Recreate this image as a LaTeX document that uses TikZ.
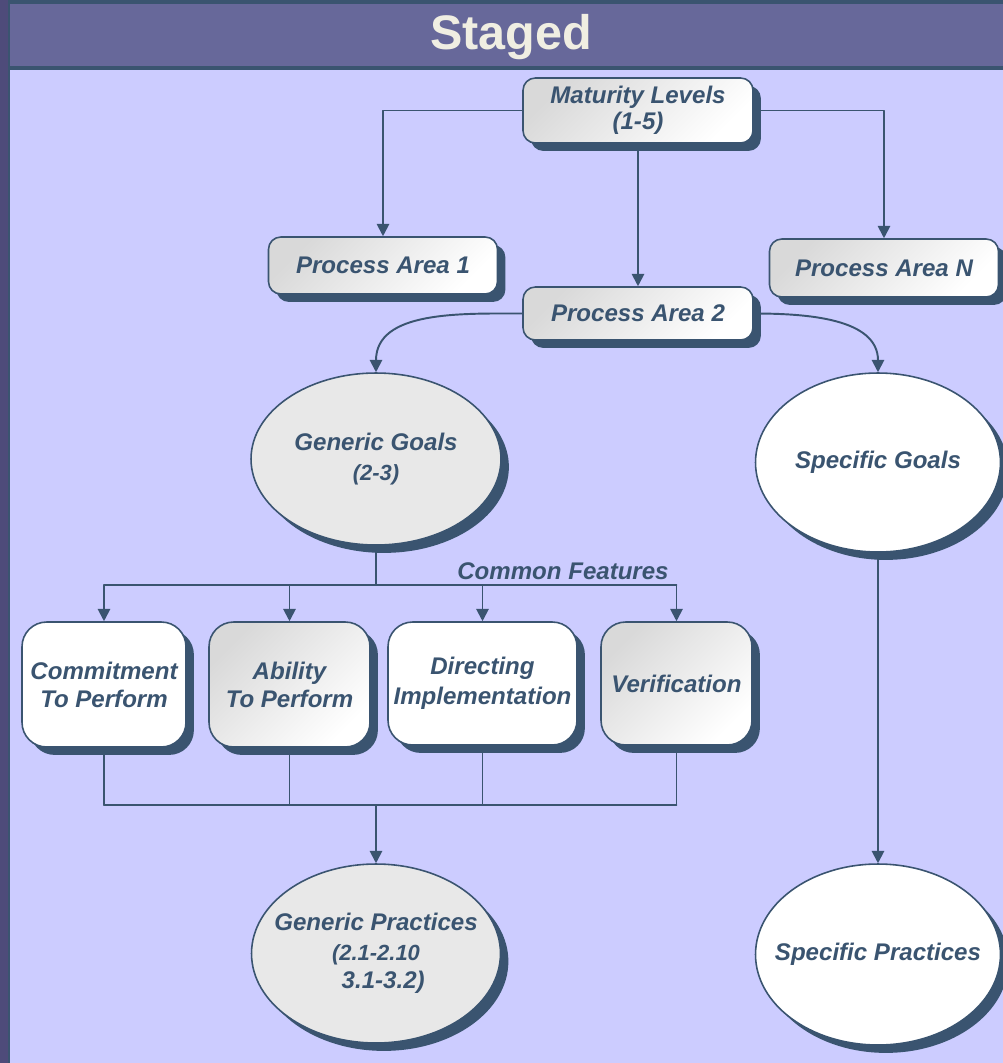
\documentclass[tikz,border=0pt]{standalone}
\usepackage{fontspec}
\setmainfont{Liberation Sans}
\usetikzlibrary{arrows.meta,shadows,shapes.geometric}

\definecolor{slate}{HTML}{3A5470}
\definecolor{lavender}{HTML}{CCCCFF}
\definecolor{band}{HTML}{67689A}
\definecolor{strip}{HTML}{4E4B7A}
\definecolor{cream}{HTML}{F0EEE2}
\definecolor{ggray}{HTML}{E8E8E8}

\begin{document}
\begin{tikzpicture}[
  x=0.02cm, y=-0.02cm,
  line cap=round, line join=round,
  >={Triangle[length=7pt,width=7pt]},
  conn/.style={draw=slate, line width=1.1pt},
  txt/.style={text=slate, align=center,
              font=\fontsize{13.7}{16}\selectfont\bfseries\itshape},
  shd/.style={drop shadow={shadow xshift=4.5pt, shadow yshift=-4.5pt,
              fill=slate, opacity=1}},
  pbox/.style={txt, shd, draw=slate, line width=0.9pt, rounded corners=7pt,
               inner sep=2pt},
  fbox/.style={pbox, rounded corners=14pt},
  grad/.style={top color=black!15, bottom color=white, shading angle=45},
  oval/.style={txt, shd, ellipse, draw=slate, line width=0.9pt,
               inner xsep=-10pt, inner ysep=0pt}
]

  % ── Background and title ──────────────────────────────────────────────────
  \useasboundingbox (0,0) rectangle (1003,1063);
  \fill[lavender] (0,0) rectangle (1003,1063);
  \fill[slate] (0,0) rectangle (1003,70);
  \fill[band] (10,4) rectangle (1003,66);
  \fill[strip] (0,0) rectangle (8,1063);
  \fill[slate] (8,0) rectangle (10,1063);
  \node[font=\fontsize{27.6}{30}\selectfont\bfseries, text=cream] (title)
      at (511,37) {Staged};

  % ── Top level ─────────────────────────────────────────────────────────────
  \node[pbox, grad, minimum width=4.6cm, minimum height=1.3cm]
      (mat) at (638,110.5) {Maturity Levels\\[-1pt](1-5)};
  \node[pbox, grad, minimum width=4.58cm, minimum height=1.14cm]
      (pa1) at (383,265.5) {Process Area 1};
  \node[pbox, grad, minimum width=4.58cm, minimum height=1.16cm]
      (pan) at (884,268) {Process Area N};
  \node[pbox, grad, minimum width=4.6cm, minimum height=1.06cm]
      (pa2) at (638,313.5) {Process Area 2};

  % ── Goals ─────────────────────────────────────────────────────────────────
  \node[oval, fill=ggray, minimum width=5.0cm, minimum height=3.44cm]
      (gg) at (376,459)
      {Generic Goals\\[1pt]\fontsize{12.5}{15}\selectfont(2-3)};
  \node[oval, fill=white, minimum width=4.9cm, minimum height=3.58cm]
      (sg) at (878,462.5) {Specific Goals};

  % ── Common features ───────────────────────────────────────────────────────
  \node[fbox, fill=white, minimum width=3.28cm, minimum height=2.5cm]
      (cmt) at (104,684.5) {Commitment\\To Perform};
  \node[fbox, grad, minimum width=3.22cm, minimum height=2.5cm]
      (abl) at (289.5,684.5) {Ability\\To Perform};
  \node[fbox, fill=white, minimum width=3.78cm, minimum height=2.46cm]
      (dir) at (482.5,683.5) {Directing\\[1pt]Implementation};
  \node[fbox, grad, minimum width=3.02cm, minimum height=2.46cm]
      (ver) at (676.5,683.5) {Verification};
  \node[txt] (cf) at (563,571) {Common Features};

  % ── Practices ─────────────────────────────────────────────────────────────
  \node[oval, fill=ggray, minimum width=4.98cm, minimum height=3.58cm]
      (gp) at (376,953.5)
      {Generic Practices\\[1pt]\fontsize{12.5}{13}\selectfont(2.1-2.10\\
       \hspace*{0.6em}3.1-3.2)};
  \node[oval, fill=white, minimum width=4.9cm, minimum height=3.62cm]
      (sp) at (878,954.5) {Specific Practices};

  % ── Connectors ────────────────────────────────────────────────────────────
  \coordinate (top bus) at (376,585);
  \coordinate (low bus) at (376,805);

  \draw[conn, ->] (mat.west) -| (pa1.north);
  \draw[conn, ->] (mat.east) -| (pan.north);
  \draw[conn, ->] (mat.south) -- (pa2.north);
  \draw[conn, ->] (pa2.west) to[out=180, in=90] (gg.north);
  \draw[conn, ->] (pa2.east) to[out=0, in=90] (sg.north);

  \draw[conn] (gg.south) -- (top bus);
  \draw[conn] (cmt.north |- top bus) -- (ver.north |- top bus);
  \foreach \fb in {cmt,abl,dir,ver}
    \draw[conn, ->] (\fb.north |- top bus) -- (\fb.north);

  \foreach \fb in {cmt,abl,dir,ver}
    \draw[conn] (\fb.south) -- (\fb.south |- low bus);
  \draw[conn] (cmt.south |- low bus) -- (ver.south |- low bus);
  \draw[conn, ->] (low bus) -- (gp.north);

  \draw[conn, ->] (sg.south) -- (sp.north);

\end{tikzpicture}
\end{document}
